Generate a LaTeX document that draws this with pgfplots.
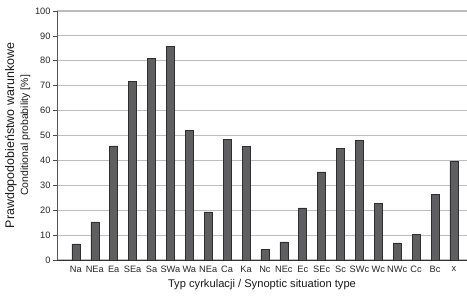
\documentclass[border=0pt]{standalone}
\usepackage{pgfplots}
\pgfplotsset{compat=1.18}
\usepackage{fontspec}
\setmainfont{Liberation Sans}
\definecolor{barfill}{HTML}{5F5F61}
\definecolor{baredge}{HTML}{2E2E2E}
\definecolor{gridc}{HTML}{BDBDBD}
\begin{document}
\begin{tikzpicture}
\begin{axis}[
  scale only axis,
  width=410bp, height=249bp,
  ymin=0, ymax=100,
  xmin=-1, xmax=20.69,
  ytick={0,10,...,100},
  xtick={0,...,20},
  xticklabels={Na,NEa,Ea,SEa,Sa,SWa,Wa,NEa,Ca,Ka,Nc,NEc,Ec,SEc,Sc,SWc,Wc,NWc,Cc,Bc,x},
  axis x line*=bottom,
  axis y line*=left,
  x axis line style={draw=black!80, line width=0.9bp},
  y axis line style={draw=black!65, line width=0.9bp},
  ymajorgrids,
  grid style={draw=gridc, line width=1.1bp},
  major x tick style={draw=none},
  major y tick style={draw=black!70, line width=0.7bp},
  tick align=outside,
  major tick length=4bp,
  ticklabel style={font=\fontsize{9.3}{10}\selectfont, text=black!85},
  /pgf/number format/assume math mode=true,
  yticklabel style={xshift=1bp},
  xticklabel style={yshift=1bp},
  ylabel style={align=center, text=black!90},
  ylabel={{\fontsize{12.5}{15}\selectfont Prawdopodobieństwo warunkowe}\\[2bp]{\fontsize{10.5}{12}\selectfont Conditional probability [\%]}},
  xlabel={\fontsize{11.2}{13}\selectfont Typ cyrkulacji / Synoptic situation type},
  xlabel style={text=black!90, yshift=1bp},
  ylabel style={yshift=-2bp},
  clip=false,
]
\addplot[ybar, bar width=8bp, bar shift=0pt, fill=barfill, draw=baredge, line width=0.6bp]
coordinates {
(0,6.5) (1,15.3) (2,45.8) (3,71.7) (4,81.1) (5,85.8) (6,51.9) (7,19.3)
(8,48.3) (9,45.7) (10,4.3) (11,7.3) (12,20.9) (13,35.4) (14,44.7)
(15,48.1) (16,22.6) (17,6.9) (18,10.3) (19,26.4) (20,39.6)
};
\coordinate (O) at (rel axis cs:0,0);
\end{axis}
\pgfresetboundingbox
\path (O) ++(-57bp,-40bp) rectangle ++(467bp,300bp);
\end{tikzpicture}
\end{document}
